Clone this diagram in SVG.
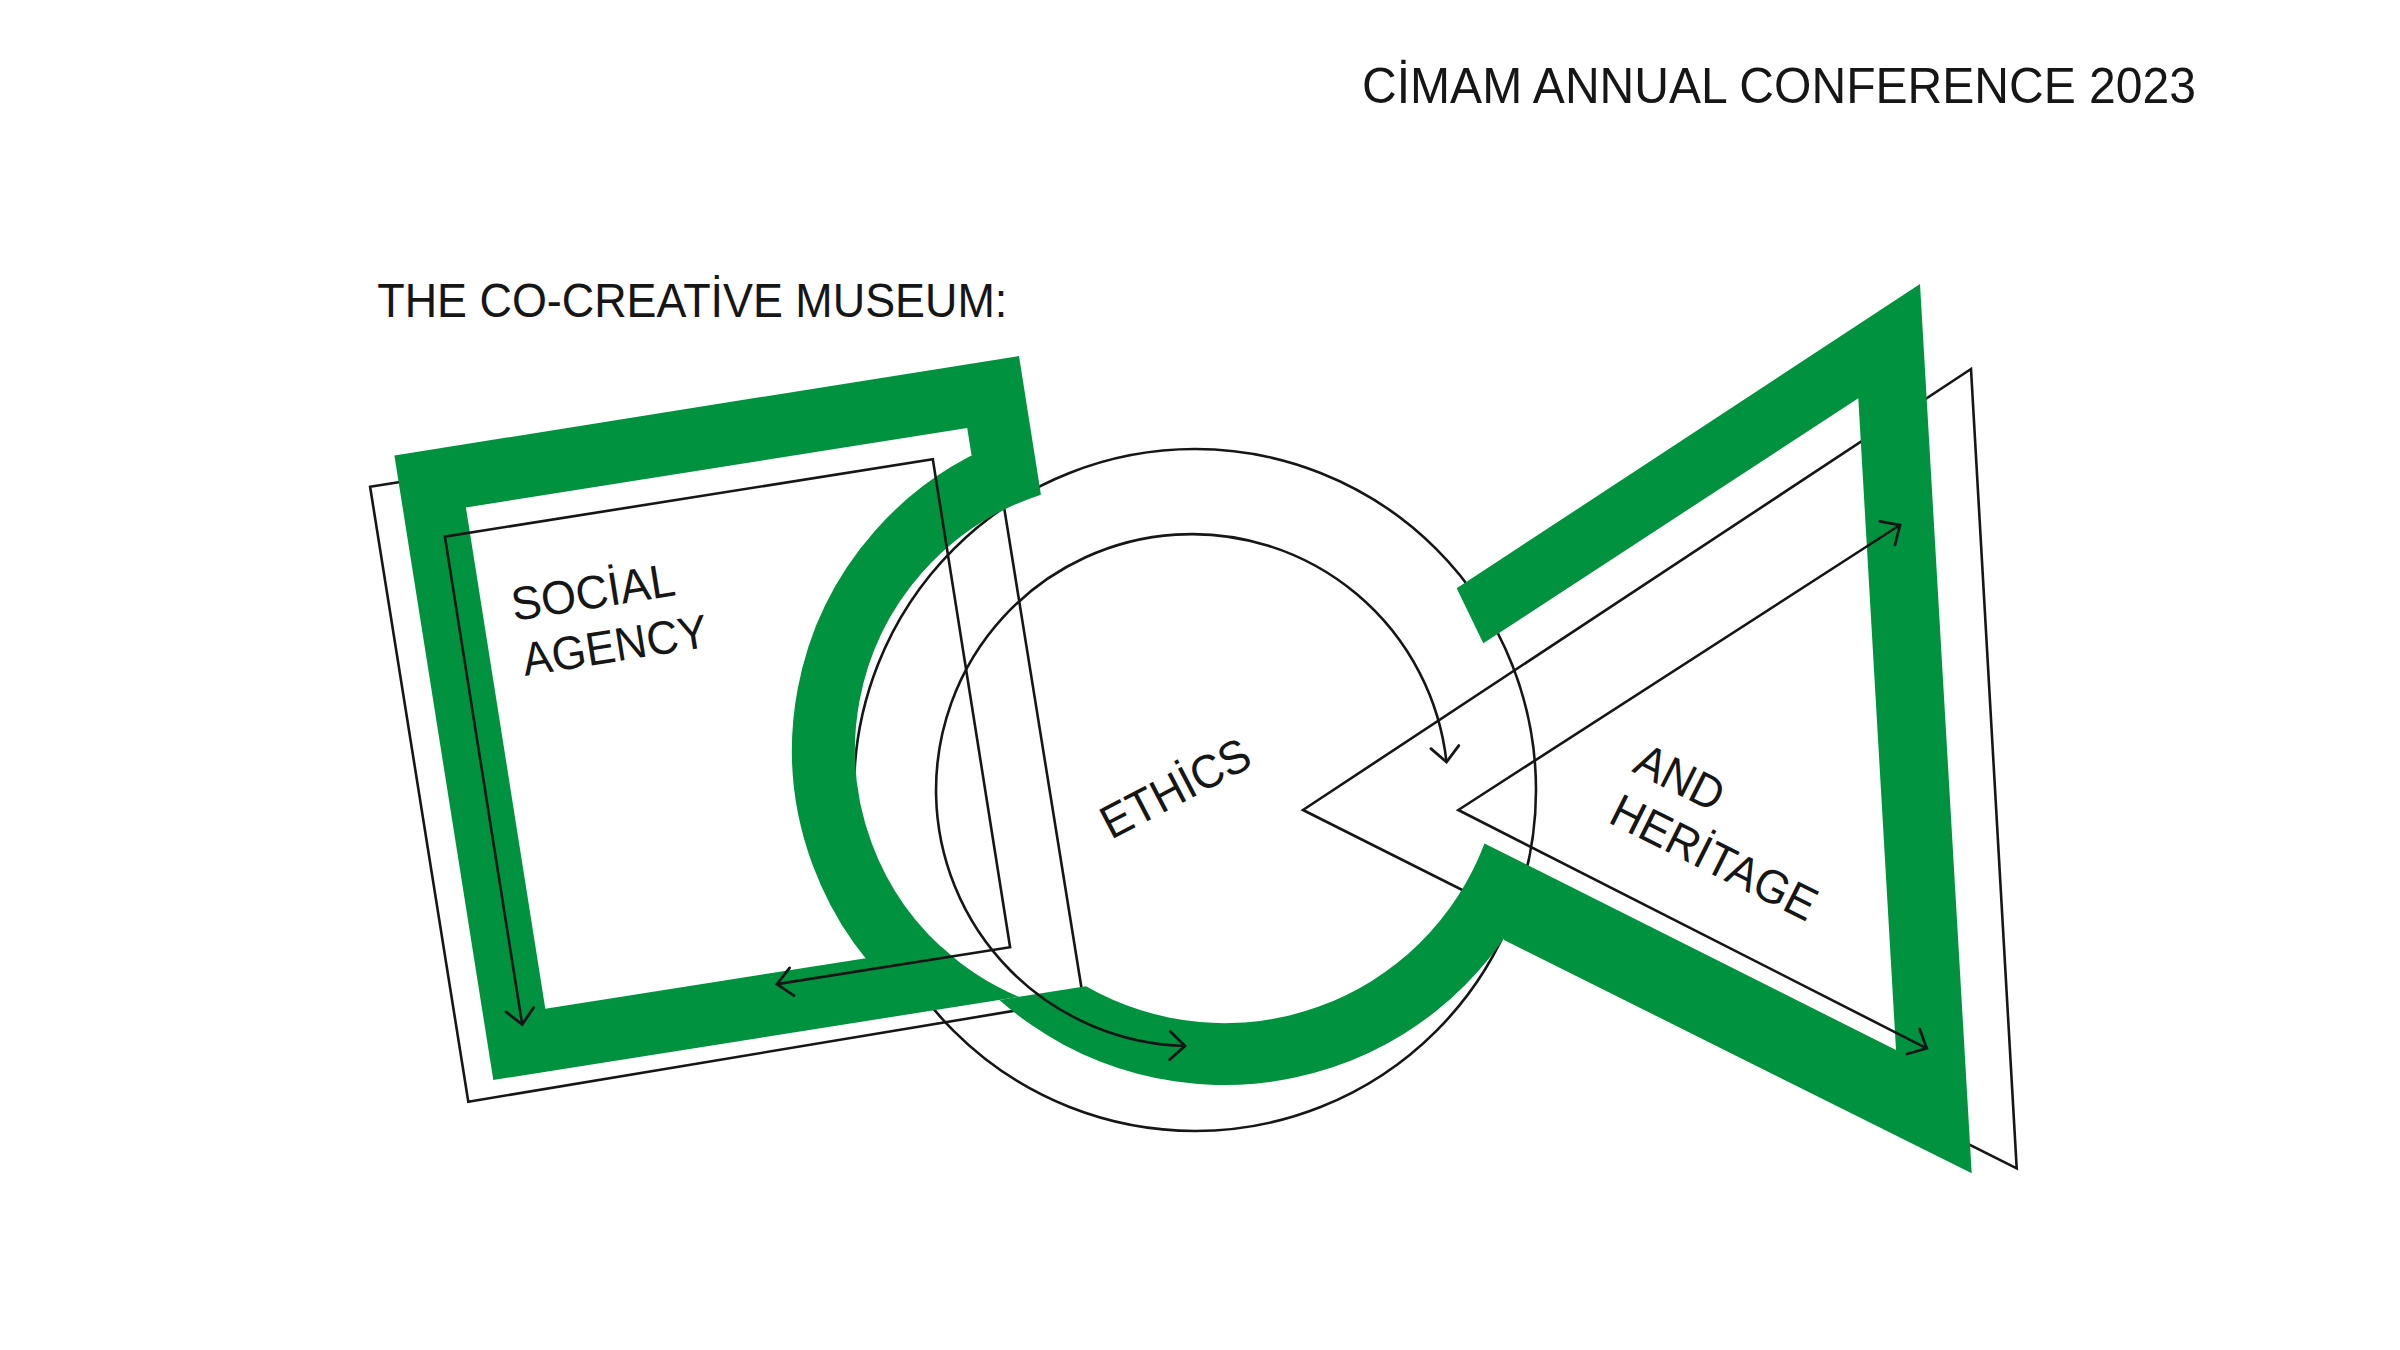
<svg xmlns="http://www.w3.org/2000/svg" width="2400" height="1350" viewBox="0 0 2400 1350">
  <style>
    .g { fill: #00923F; }
    .gs { fill: none; stroke: #00923F; }
    .k { fill: none; stroke: #161616; stroke-width: 2.6; stroke-linejoin: miter; }
    .arr { marker-start: url(#ah); marker-end: url(#ah); }
    text { font-family: "Liberation Sans", Arial, Helvetica, sans-serif; fill: #161616; }
    .hd { font-size: 50px; }
    .sub { font-size: 48px; }
    .lbl { font-size: 47px; }
  </style>
  <defs>
    <marker id="ah" markerUnits="userSpaceOnUse" viewBox="-20 -20 40 40" markerWidth="40" markerHeight="40" refX="0" refY="0" orient="auto-start-reverse">
      <path d="M-15,-14 L0,0 L-15,14" fill="none" stroke="#161616" stroke-width="2.8" stroke-linecap="round" stroke-linejoin="miter"/>
    </marker>
  </defs>
  <rect width="2400" height="1350" fill="#ffffff"/>

  <!-- thin outlines (under the green shapes) -->
  <g id="outlines">
    <polygon id="outline-square" class="k" points="370.1,486.8 985.1,389.4 1083.3,999.3 468.3,1101.7"/>
    <circle id="outline-circle" class="k" cx="1195" cy="790" r="341"/>
    <polygon id="outline-triangle" class="k" points="1303,810 1971,369 2016.7,1168.3"/>
  </g>

  <!-- node: square (social agency) -->
  <g id="node-square">
    <path class="g" d="M1041,495 L1019,356 L394.4,455.5 L493.3,1080 L1019,996.8 A268,268 0 0 1 941,946.4 L545.3,1008.7 L465.9,507.4 L967.2,428 L971.5,455 Z"/>
    <text class="lbl" transform="translate(514,621) rotate(-9)" textLength="165" lengthAdjust="spacingAndGlyphs">SOCİAL</text>
    <text class="lbl" transform="translate(525,676) rotate(-9)" textLength="187" lengthAdjust="spacingAndGlyphs">AGENCY</text>
  </g>

  <!-- node: circle (ethics) -->
  <g id="node-circle">
    <path class="gs" stroke-width="63" d="M1030.5,465.1 A299.5,299.5 0 0 0 934.5,982.7"/>
    <path class="g" d="M999.4,1000 A340,340 0 0 0 1532.5,888.7 L1484.5,843.5 A278,278 0 0 1 1086,986.2 Z"/>
    <text class="lbl" transform="translate(1111,840) rotate(-27.5)" textLength="162" lengthAdjust="spacingAndGlyphs">ETHİCS</text>
  </g>

  <!-- node: triangle (and heritage) -->
  <g id="node-triangle">
    <polygon class="g" points="1456.7,588.3 1920,284 1971.7,1173.3 1504,940 1484.5,843.5 1896,1050 1858.3,398.3 1483.3,643.3"/>
    <text class="lbl" transform="translate(1631,771) rotate(26.6)" textLength="93" lengthAdjust="spacingAndGlyphs">AND</text>
    <text class="lbl" transform="translate(1606.7,821.7) rotate(26.6)" textLength="224" lengthAdjust="spacingAndGlyphs">HERİTAGE</text>
  </g>

  <!-- connectors: arrowed paths -->
  <g id="connectors">
    <path id="arrow-square" class="k arr" d="M777,984.1 L1010.1,947.2 L932.8,459.3 L444.9,536.6 L522.2,1024.5"/>
    <path id="arrow-circle" class="k arr" d="M1446.5,762 A256,256 0 1 0 1185,1046"/>
    <path id="arrow-triangle" class="k arr" d="M1900,525 L1458.3,810 L1926.7,1048.3"/>
  </g>

  <!-- headings -->
  <g id="header">
    <text class="hd" x="1362" y="102.5" textLength="834" lengthAdjust="spacingAndGlyphs">CİMAM ANNUAL CONFERENCE 2023</text>
    <text class="sub" x="377.3" y="317.3" textLength="630" lengthAdjust="spacingAndGlyphs">THE CO-CREATİVE MUSEUM:</text>
  </g>
</svg>
